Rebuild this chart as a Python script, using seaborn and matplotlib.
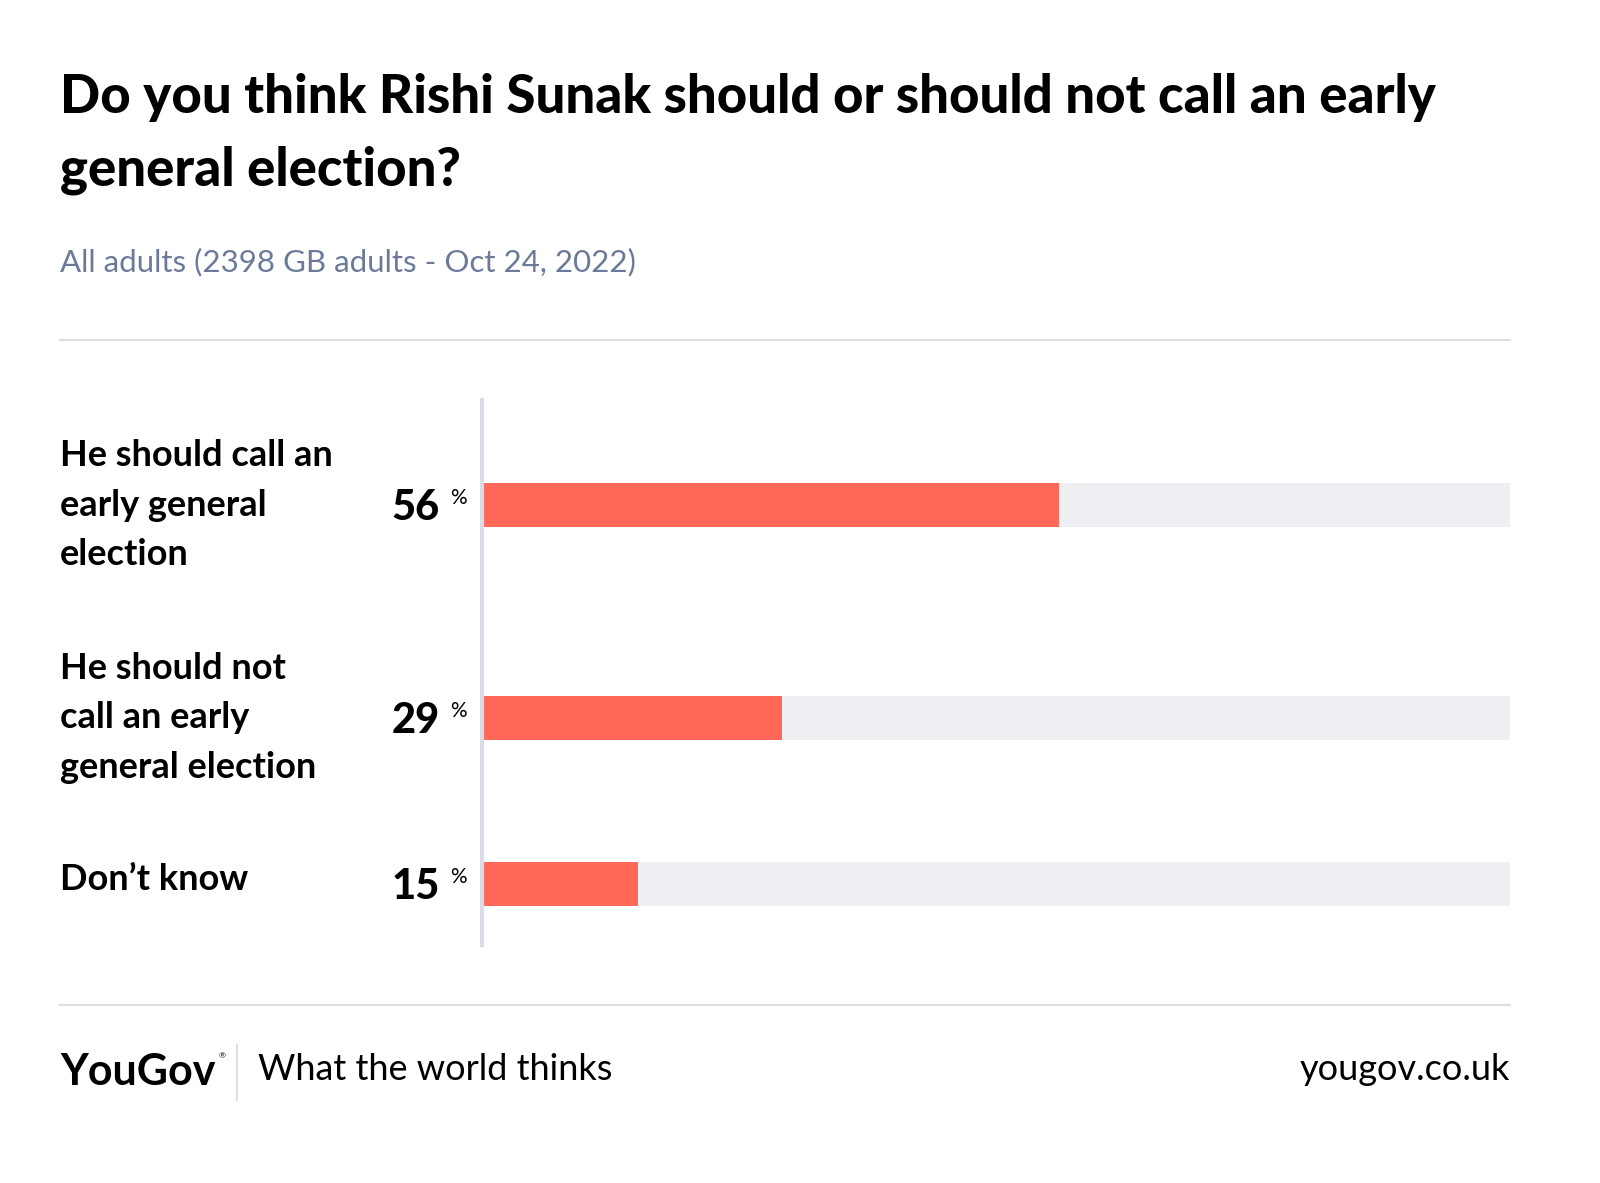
import matplotlib
matplotlib.use("Agg")
import matplotlib.pyplot as plt
import seaborn as sns
import pandas as pd

categories = ["He should call an\nearly general\nelection",
              "He should not\ncall an early\ngeneral election",
              "Don\u2019t know"]
values = [56, 29, 15]
label_y = [505, 718, 880]   # label centre rows (pixels)
bar_y = [505, 718, 884]     # bar centre rows (pixels)

W, H = 1600, 1183
fig = plt.figure(figsize=(16, 11.83), dpi=100)
fig.patch.set_facecolor("white")
FONT = "Lato"

def fx(x): return x / W
def fy(y): return 1 - y / H

fig.text(fx(60), fy(97), "Do you think Rishi Sunak should or should not call an early",
         fontsize=38, fontweight="heavy", family=FONT, va="center")
fig.text(fx(60), fy(170), "general election?", fontsize=38, fontweight="heavy",
         family=FONT, va="center")
fig.text(fx(60), fy(262), "All adults (2398 GB adults - Oct 24, 2022)", fontsize=22.5,
         color="#6B7A99", family=FONT, va="center")

# separators
for yy in (340, 1005):
    fig.add_artist(plt.Line2D([fx(60), fx(1510)], [fy(yy), fy(yy)], color="#DDDFE6", lw=1.5))

top, bot = 400, 945
fig.add_artist(plt.Line2D([fx(482), fx(482)], [fy(top), fy(bot)], color="#D9DCE6", lw=3))

df = pd.DataFrame({"cat": categories, "value": values, "y": bar_y})
bh = 44
for _, row in df.iterrows():
    ax = fig.add_axes([fx(484), fy(row["y"] + bh / 2), fx(1510 - 484), bh / H])
    ax.barh([0], [100], height=1, color="#EEEFF3")
    sns.barplot(data=df[df["cat"] == row["cat"]], x="value", y="cat", orient="h",
                ax=ax, color="#FF6859", width=1, saturation=1)
    ax.set_xlim(0, 100)
    ax.set_ylim(0.5, -0.5)
    ax.axis("off")

for cat, v, ly, by in zip(categories, values, label_y, bar_y):
    fig.text(fx(60), fy(ly), cat, fontsize=26, fontweight="bold", family=FONT,
             va="center", linespacing=1.6)
    fig.text(fx(440), fy(by + 3), str(v), fontsize=30, fontweight="heavy", family=FONT,
             va="center", ha="right")
    fig.text(fx(450), fy(by - 7), "%", fontsize=15, family=FONT, va="center")

# footer
fig.text(fx(60), fy(1072), "YouGov", fontsize=31, fontweight="bold", family=FONT,
         va="center")
fig.text(fx(219), fy(1056), "\u00ae", fontsize=6, family=FONT, va="center")
fig.add_artist(plt.Line2D([fx(237), fx(237)], [fy(1045), fy(1100)], color="#DDDFE6", lw=1.5))
fig.text(fx(258), fy(1070), "What the world thinks", fontsize=26, family=FONT, va="center")
fig.text(fx(1510), fy(1070), "yougov.co.uk", fontsize=26, family=FONT, va="center", ha="right")

fig.savefig("out.png", dpi=100, facecolor="white")
